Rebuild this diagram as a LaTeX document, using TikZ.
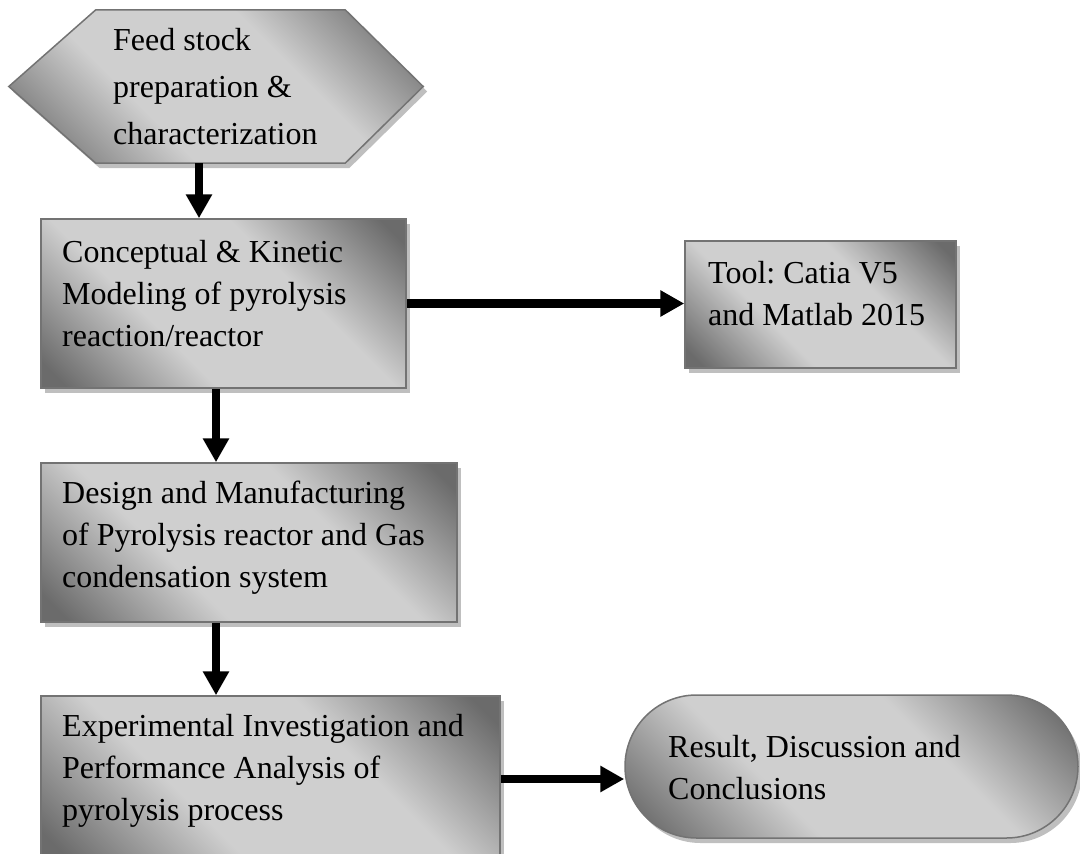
\documentclass[tikz,border=0pt]{standalone}
\usepackage{fontspec}
\setmainfont{Liberation Serif}
\usetikzlibrary{arrows.meta,shadows,calc}
\definecolor{shdk}{gray}{0.42}
\definecolor{shlt}{gray}{0.81}
\pgfdeclareverticalshading{boxshade}{100bp}{color(0bp)=(shdk); color(18bp)=(shdk); color(38bp)=(shlt); color(62bp)=(shlt); color(82bp)=(shdk); color(100bp)=(shdk)}
\tikzset{
  shp/.style={draw=black!55, line width=1.5pt, shading=boxshade, shading angle=-45,
    drop shadow={shadow xshift=4pt, shadow yshift=-5pt, fill=black!25, opacity=1}},
  stepbox/.style={shp, rectangle, inner sep=0pt},
  ghost/.style={rectangle, inner sep=0pt},
  txt/.style={inner sep=0pt, anchor=north west, align=left, font=\fontsize{32pt}{42pt}\selectfont\frenchspacing},
  arr/.style={line width=8.5pt, -{Triangle[length=24pt,width=25pt]}}
}
\begin{document}
\begin{tikzpicture}[x=1pt,y=-1pt]
\useasboundingbox (0,0) rectangle (1080,854);
\clip (0,0) rectangle (1080,854);
% shapes
\node[ghost, minimum width=414, minimum height=153] (feed) at (216,86.5) {};
\path[shp] (feed.west) -- ([xshift=87pt]feed.north west) -- ([xshift=-78pt]feed.north east) -- (feed.east) -- ([xshift=-78pt]feed.south east) -- ([xshift=87pt]feed.south west) -- cycle;
\node[stepbox, minimum width=365, minimum height=169] (concept) at (223.5,303.5) {};
\node[stepbox, minimum width=271, minimum height=127] (tool) at (820.5,304.5) {};
\node[stepbox, minimum width=416, minimum height=159] (design) at (249,542.5) {};
\node[stepbox, minimum width=459, minimum height=166] (exp) at (270.5,779) {};
\node[stepbox, rounded corners=71.5pt, minimum width=453, minimum height=143] (term) at (851.5,766.5) {};
% texts
\node[txt, font=\fontsize{32pt}{47pt}\selectfont\frenchspacing] (feedt) at (113,28) {Feed stock\\preparation \&\\characterization};
\node[txt] (conceptt) at (62,240) {Conceptual \& Kinetic\\Modeling of pyrolysis\\reaction/reactor};
\node[txt] (toolt) at (708,261) {Tool: Catia V5\\and Matlab 2015};
\node[txt] (designt) at (62,481) {Design and Manufacturing\\of Pyrolysis reactor and Gas\\condensation system};
\node[txt] (expt) at (62,714) {Experimental Investigation and\\Performance Analysis of\\pyrolysis process};
\node[txt] (termt) at (668,735) {Result, Discussion and\\Conclusions};
% connectors
\coordinate (ax1) at (199,0);
\coordinate (ax2) at (216,0);
\draw[arr] (feed.south -| ax1) -- (concept.north -| ax1);
\draw[arr] (concept.south -| ax2) -- (design.north -| ax2);
\draw[arr] (design.south -| ax2) -- (exp.north -| ax2);
\draw[arr] (concept.east) -- (concept.east -| tool.west);
\draw[arr] (exp.east) -- (exp.east -| term.west);
\end{tikzpicture}
\end{document}
